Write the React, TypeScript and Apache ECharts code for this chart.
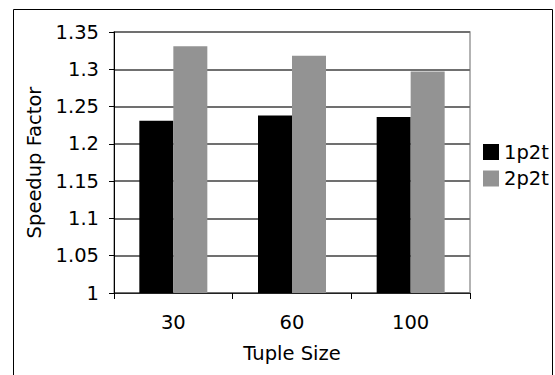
import React, { useEffect, useRef } from "react";
import * as echarts from "echarts";

const categories = ["30", "60", "100"];
const series1p2t = [1.231, 1.238, 1.236];
const series2p2t = [1.331, 1.318, 1.297];
const seriesNames = ["1p2t", "2p2t"];

const FONT = "DejaVu Sans, Verdana, sans-serif";
const FS = 19.5;

export default function App() {
  const ref = useRef<HTMLDivElement>(null);
  useEffect(() => {
    if (!ref.current) return;
    const chart = echarts.init(ref.current, undefined, { renderer: "svg" });
    chart.setOption({
      animation: false,
      backgroundColor: "#fff",
      textStyle: { fontFamily: FONT },
      graphic: [
        {
          type: "rect",
          shape: { x: 13.5, y: 9.5, width: 539, height: 400 },
          style: { fill: "none", stroke: "#000", lineWidth: 1 },
          silent: true,
          z: -1,
        },
      ],
      grid: {
        left: 114,
        top: 32,
        right: 85,
        bottom: 82,
        show: true,
        borderColor: "#9a9a9a",
        borderWidth: 1.5,
        backgroundColor: "transparent",
      },
      legend: {
        orient: "vertical",
        left: 478,
        top: 137,
        padding: 5,
        itemWidth: 16,
        itemHeight: 16,
        itemGap: 6.5,
        icon: "rect",
        data: seriesNames,
        textStyle: { fontFamily: FONT, fontSize: FS, color: "#000", padding: [0, 0, 0, 0] },
      },
      xAxis: {
        type: "category",
        data: categories,
        boundaryGap: true,
        name: "Tuple Size",
        nameLocation: "middle",
        nameGap: 50,
        nameTextStyle: { fontFamily: FONT, fontSize: FS, color: "#000" },
        axisLine: { show: true, lineStyle: { color: "#222", width: 1 } },
        axisTick: { show: true, alignWithLabel: false, length: 6, lineStyle: { color: "#000" } },
        axisLabel: { fontFamily: FONT, fontSize: FS, color: "#000", margin: 19 },
        splitLine: { show: false },
      },
      yAxis: {
        type: "value",
        min: 1,
        max: 1.35,
        interval: 0.05,
        name: "Speedup Factor",
        nameLocation: "middle",
        nameGap: 70,
        nameRotate: 90,
        nameTextStyle: { fontFamily: FONT, fontSize: FS, color: "#000" },
        axisLine: { show: true, lineStyle: { color: "#000", width: 1 } },
        axisTick: { show: true, inside: false, length: 5, lineStyle: { color: "#000" } },
        axisLabel: { fontFamily: FONT, fontSize: FS, color: "#000", margin: 15 },
        splitLine: { show: true, lineStyle: { color: "#707070", width: 2 } },
      },
      series: [
        {
          name: seriesNames[0],
          type: "bar",
          data: series1p2t,
          barWidth: 34,
          barGap: "0%",
          itemStyle: { color: "#000" },
        },
        {
          name: seriesNames[1],
          type: "bar",
          data: series2p2t,
          barWidth: 34,
          barGap: "0%",
          itemStyle: { color: "#939393" },
        },
      ],
    });
    return () => chart.dispose();
  }, []);
  return (
    <div
      ref={ref}
      style={{ position: "fixed", left: 0, top: 0, width: 555, height: 375 }}
    />
  );
}
